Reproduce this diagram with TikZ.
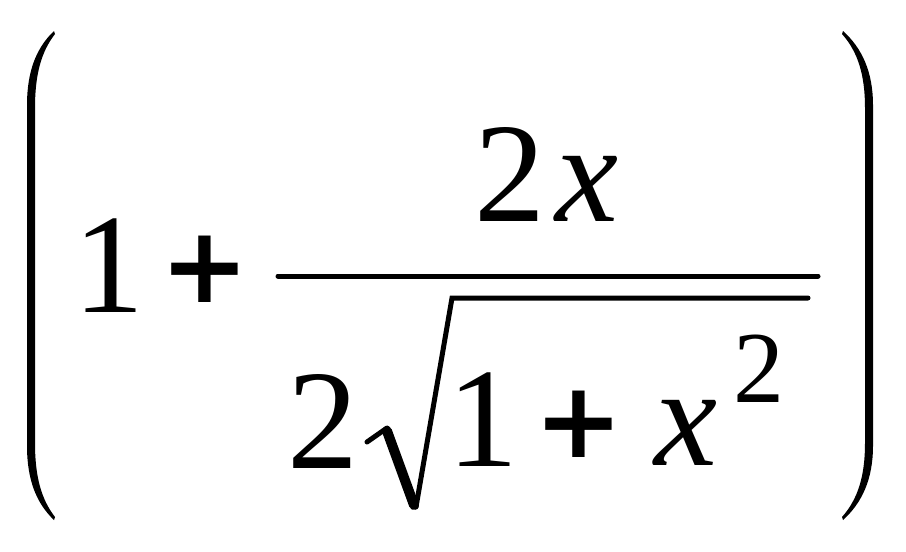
\documentclass[tikz,border=0pt]{standalone}
\usepackage{fontspec}
\setmainfont{Liberation Serif}
\newfontfamily\plusfont{DejaVu Sans}
\newcommand\glyphbig{\fontsize{142}{150}\selectfont}
\newcommand\glyphsup{\fontsize{102}{110}\selectfont}
\newcommand\glyphplus{\plusfont\fontsize{106}{110}\selectfont\bfseries}
\begin{document}
\begin{tikzpicture}[x=1pt, y=-1pt,
		glyph/.style={inner sep=0, anchor=base, font=\glyphbig},
		plussign/.style={inner sep=0, anchor=center, font=\glyphplus}]
	\useasboundingbox (0, 0) rectangle (906, 552);
	% brackets
	\fill (54, 31) .. controls (36, 48) and (27, 72) .. (27, 105) -- (27, 446)
		.. controls (27, 479) and (36, 503) .. (54, 520) -- (55, 517)
		.. controls (41, 499) and (35, 476) .. (35, 443) -- (35, 108)
		.. controls (35, 75) and (41, 52) .. (55, 34) -- cycle;
	\fill (843, 31) .. controls (862, 48) and (873, 72) .. (873, 105) -- (873, 446)
		.. controls (873, 479) and (862, 503) .. (843, 520) -- (842, 517)
		.. controls (858, 499) and (865, 476) .. (865, 443) -- (865, 108)
		.. controls (865, 75) and (858, 52) .. (842, 34) -- cycle;
	\node[glyph] (one) at (109, 312) {1};
	\node[plussign] (plus) at (204.5, 269) {+};
	% fraction
	\node[glyph] (numtwo) at (510, 221) {2};
	\node[glyph] (numx) at (587, 221) {\textit{x}};
	\draw[line width=5, line cap=round] (278, 276) -- (818, 276);
	\node[glyph] (dentwo) at (322.5, 468) {2};
	% radical
	\draw[line width=5, line cap=round] (367, 442) -- (387, 428);
	\draw[line width=10, line cap=round] (387, 431) -- (414, 505);
	\draw[line width=5, line cap=round] (416, 507) -- (452, 298) -- (808, 298);
	\node[glyph] (radone) at (483, 466) {1};
	\node[plussign] (radplus) at (578.5, 424) {+};
	\node[glyph] (radx) at (686.5, 465) {\textit{x}};
	\node[glyph, font=\glyphsup] (sqtwo) at (758.5, 402) {2};
\end{tikzpicture}
\end{document}
